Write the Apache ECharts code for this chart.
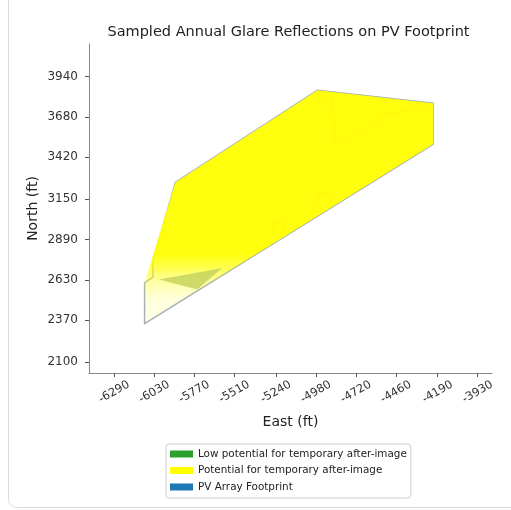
<!DOCTYPE html>
<html>
<head>
<meta charset="utf-8">
<script src="https://cdn.jsdelivr.net/npm/echarts@6/dist/echarts.min.js"></script>
<style>
html,body{margin:0;padding:0;background:#fff;}
#c{width:511px;height:510px;}
</style>
</head>
<body>
<div id="c"></div>
<script>
// ---- tick labels ----
const xTicks = [-6290, -6030, -5770, -5510, -5240, -4980, -4720, -4460, -4190, -3930];
const yTicks = [2100, 2370, 2630, 2890, 3150, 3420, 3680, 3940];

// ---- PV array footprint outline (East, North in ft) ----
const footprintX = [-6093, -6093, -6039, -6039, -5894, -4971, -4220, -4220];
const footprintY = [2348, 2610, 2648, 2744, 3258, 3853, 3769, 3504];

// internal sub-array outlines
const subArrayA_X = [-4971, -4958, -4875, -4856, -4568, -4568, -4239];
const subArrayA_Y = [3853, 3777, 3814, 3515, 3648, 3687, 3756];
const subArrayB_X = [-5256, -5256, -5191, -5187];
const subArrayB_Y = [2933, 2993, 3008, 2955];
const subArrayC_X = [-4964, -4964, -4888, -4877];
const subArrayC_Y = [3116, 3181, 3196, 3138];

// ---- glare regions ----
const glareYellowX = [-6093, -6093, -5894, -4971, -4220, -4220];
const glareYellowY = [2348, 2610, 3258, 3853, 3769, 3504];
const glareGreenX = [-5998, -5589, -5751];
const glareGreenY = [2632, 2707, 2567];

const seriesNames = ['Low potential for temporary after-image', 'Potential for temporary after-image', 'PV Array Footprint'];
const legendColors = ['#2ca02c', '#ffff00', '#1f77b4'];

function zip(xs, ys) { return xs.map((x, i) => [x, ys[i]]); }

function polySeries(name, pts, style, z, closed) {
  return {
    type: 'custom', name: name, coordinateSystem: 'cartesian2d',
    data: pts, encode: { x: 0, y: 1 }, silent: true, z: z, clip: true,
    renderItem: function (params, api) {
      if (params.dataIndex !== 0) return null;
      const P = pts.map(p => api.coord(p));
      return { type: closed ? 'polygon' : 'polyline', shape: { points: P }, style: style };
    }
  };
}

const lineStyle = { fill: null, stroke: '#a3adc0', lineWidth: 1.5 };

const chart = echarts.init(document.getElementById('c'), null, { renderer: 'canvas' });

const option = {
  animation: false,
  backgroundColor: '#fff',
  textStyle: { fontFamily: 'DejaVu Sans' },
  grid: { left: 89, right: 19, top: 44, bottom: 137, containLabel: false },
  xAxis: {
    type: 'value', min: -6454, max: -3837,
    name: 'East (ft)', nameLocation: 'middle', nameGap: 42, nameMoveOverlap: false,
    nameTextStyle: { fontSize: 14, color: '#222', fontFamily: 'DejaVu Sans' },
    axisLine: { show: true, onZero: false, lineStyle: { color: '#888', width: 1 } },
    axisTick: { show: true, length: 4, lineStyle: { color: '#555' }, customValues: xTicks },
    axisLabel: {
      customValues: xTicks, rotate: 30, fontSize: 11.5, color: '#333', margin: 19,
      align: 'center', verticalAlign: 'middle',
      fontFamily: 'DejaVu Sans',
      formatter: v => String(v)
    },
    splitLine: { show: false }
  },
  yAxis: {
    type: 'value', min: 2029, max: 4151,
    name: 'North (ft)', nameLocation: 'middle', nameGap: 49, nameRotate: 90, nameMoveOverlap: false,
    nameTextStyle: { fontSize: 14, color: '#222', fontFamily: 'DejaVu Sans' },
    axisLine: { show: true, onZero: false, lineStyle: { color: '#888', width: 1 } },
    axisTick: { show: true, length: 4, lineStyle: { color: '#555' }, customValues: yTicks },
    axisLabel: {
      customValues: yTicks, fontSize: 12, color: '#333', margin: 11,
      fontFamily: 'DejaVu Sans', formatter: v => String(v)
    },
    splitLine: { show: false }
  },
  legend: {
    orient: 'vertical', left: 166, top: 444,
    padding: [4, 4, 5, 4], itemGap: 4.5, itemWidth: 23, itemHeight: 7,
    borderColor: '#ccc', borderWidth: 1, borderRadius: 3,
    icon: 'rect',
    textStyle: { fontSize: 10.4, color: '#222', fontFamily: 'DejaVu Sans', lineHeight: 12 },
    data: seriesNames.map((n, i) => ({ name: n, icon: 'rect', itemStyle: { color: legendColors[i], borderWidth: 0 } }))
  },
  graphic: [
    { type: 'text', z: 10, style: { text: 'Sampled Annual Glare Reflections on PV Footprint', x: 288.5, y: 32, align: 'center', verticalAlign: 'middle', fontSize: 14.5, fill: '#222', fontFamily: 'DejaVu Sans' } },
    { type: 'rect', z: -1, shape: { x: 8.5, y: -20, width: 530, height: 527.5, r: 8 }, style: { fill: null, stroke: '#dcdcdc', lineWidth: 1 } }
  ],
  series: [
    polySeries(seriesNames[2], zip(footprintX, footprintY), lineStyle, 1, true),
    polySeries('subA', zip(subArrayA_X, subArrayA_Y), lineStyle, 1, false),
    polySeries('subB', zip(subArrayB_X, subArrayB_Y), lineStyle, 1, false),
    polySeries('subC', zip(subArrayC_X, subArrayC_Y), lineStyle, 1, false),
    polySeries(seriesNames[1], zip(glareYellowX, glareYellowY), {
      fill: new echarts.graphic.LinearGradient(0, 0, 0, 1, [
        { offset: 0, color: 'rgba(255,255,0,0.95)' },
        { offset: 0.70, color: 'rgba(255,255,0,0.95)' },
        { offset: 0.76, color: 'rgba(255,255,0,0.7)' },
        { offset: 0.82, color: 'rgba(255,255,0,0.36)' },
        { offset: 0.89, color: 'rgba(255,255,0,0.15)' },
        { offset: 1, color: 'rgba(255,255,0,0.08)' }
      ]),
      stroke: null
    }, 2, true),
    polySeries(seriesNames[0], zip(glareGreenX, glareGreenY), { fill: 'rgba(196,212,92,0.85)', stroke: null }, 3, true)
  ]
};
chart.setOption(option);
</script>
</body>
</html>
